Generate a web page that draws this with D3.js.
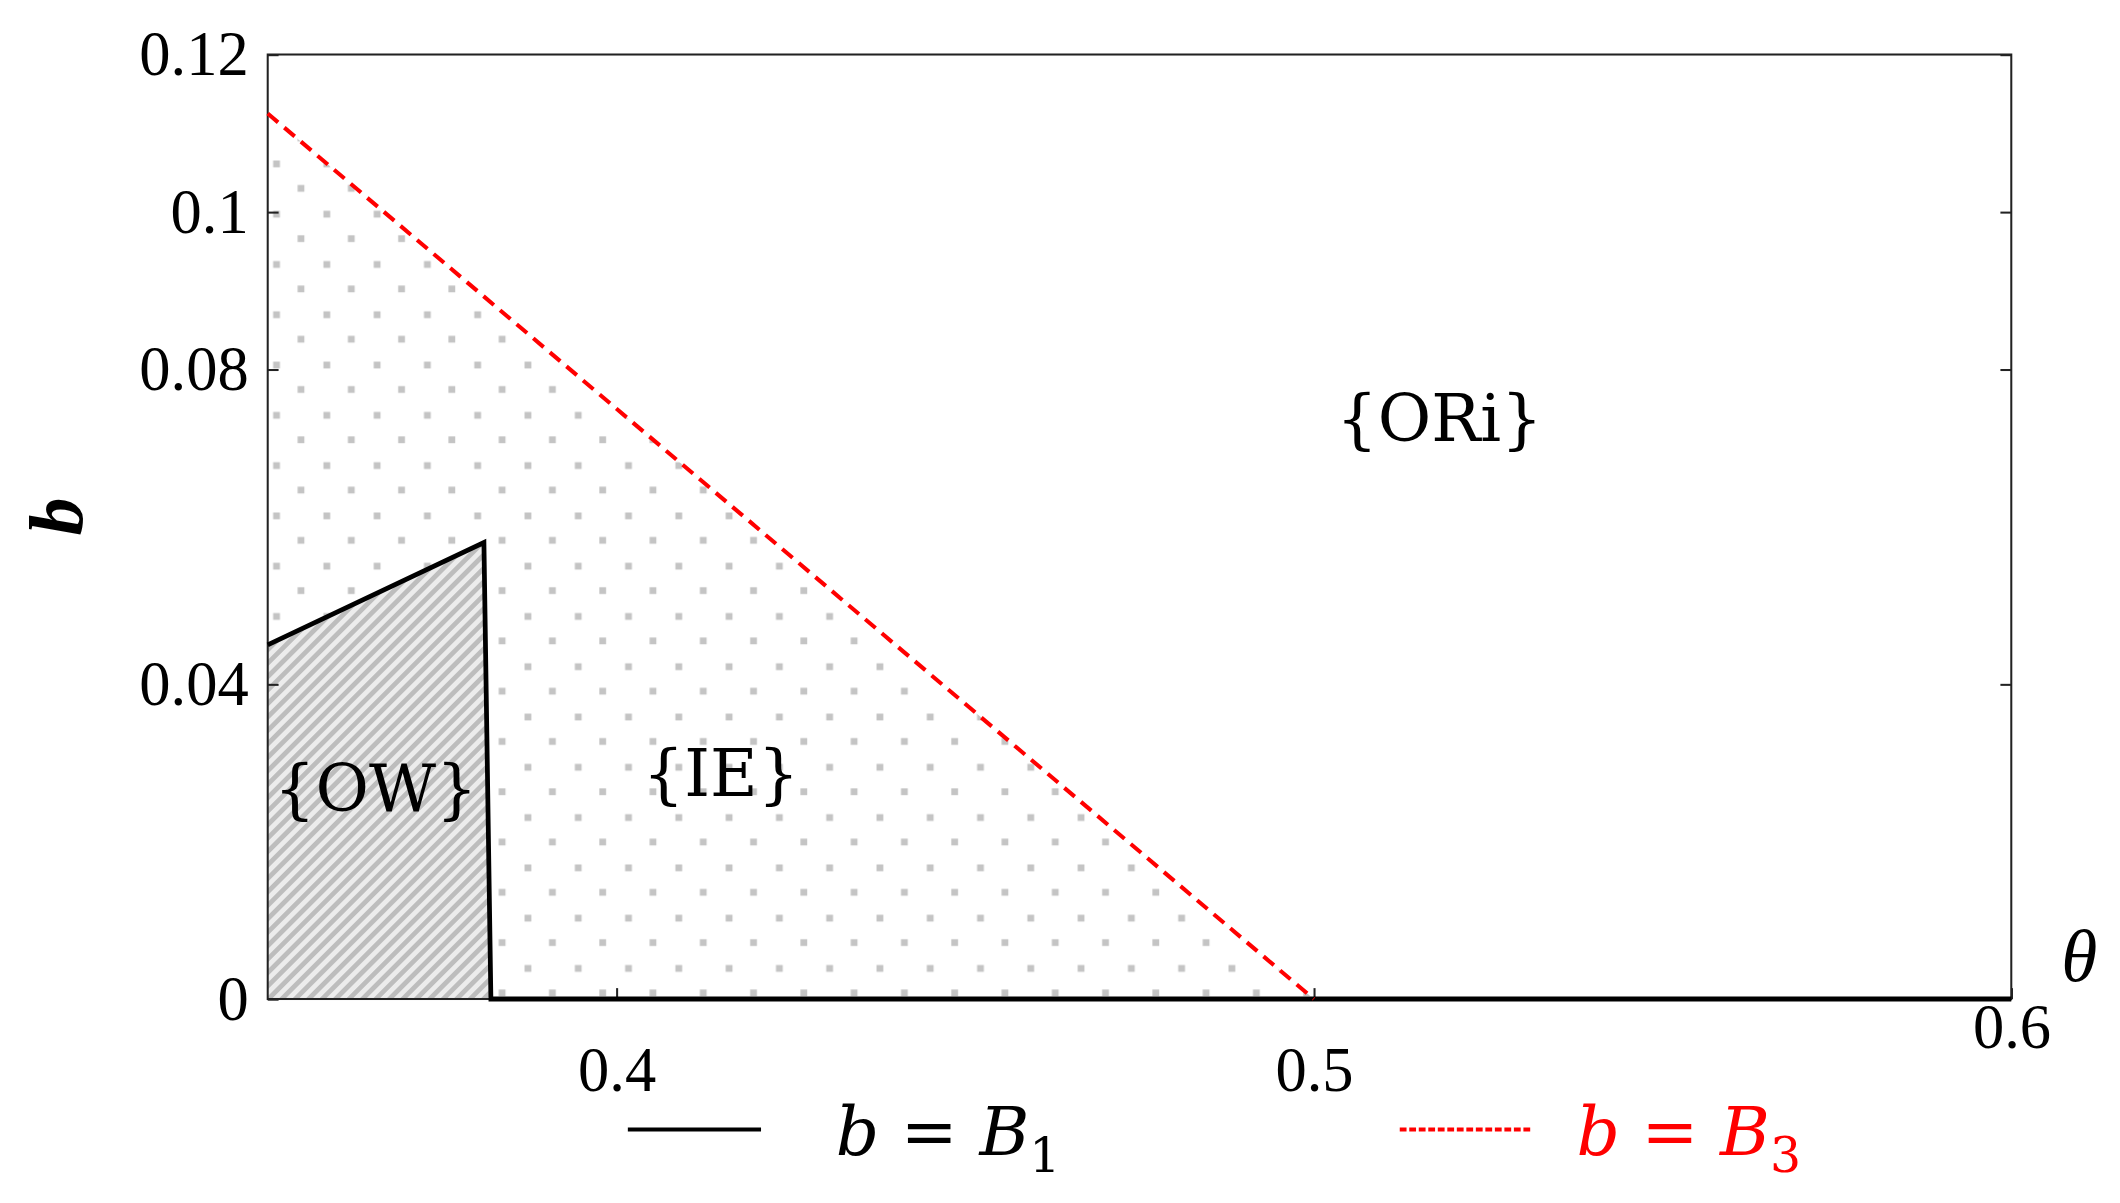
<!DOCTYPE html>
<html><head><meta charset="utf-8">
<script src="https://cdn.jsdelivr.net/npm/d3@7"></script>
<style>body{margin:0;background:#fff}</style>
</head><body><div id="app"></div>
<script>
'use strict'
// data
const xTicks = [0.4, 0.5, 0.6]
const yTicks = [0, 0.04, 0.08, 0.1, 0.12]
const b1Theta = [0.35, 0.381, 0.382, 0.6]
const b1Value = [0.045, 0.058, 0, 0]
const b3Theta = [0.35, 0.5]
const b3Value = [0.1125, 0]
const regions = [
  { name: '{OW}', theta: 0.3655, b: 0.026 },
  { name: '{IE}', theta: 0.415, b: 0.028 },
  { name: '{ORi}', theta: 0.518, b: 0.073 }
]

const margin = { top: 40, right: 80, bottom: 150, left: 197 }
const W = 1560, H = 885
const width = W - margin.left - margin.right
const height = H - margin.top - margin.bottom

const svg = d3.select('#app').append('svg')
  .attr('width', 2120).attr('height', 1203)
  .attr('viewBox', `0 0 ${W} ${H}`)
const defs = svg.append('defs')
const dots = defs.append('pattern').attr('id', 'dots').attr('patternUnits', 'userSpaceOnUse')
  .attr('width', 37).attr('height', 37)
dots.append('rect').attr('x', 4).attr('y', 4).attr('width', 5).attr('height', 5).attr('fill', '#c4c4c4')
dots.append('rect').attr('x', 22).attr('y', 22).attr('width', 5).attr('height', 5).attr('fill', '#c4c4c4')
const hatch = defs.append('pattern').attr('id', 'hatch').attr('patternUnits', 'userSpaceOnUse')
  .attr('width', 7).attr('height', 7).attr('patternTransform', 'rotate(45)')
hatch.append('rect').attr('width', 7).attr('height', 7).attr('fill', '#ececec')
hatch.append('rect').attr('width', 3.5).attr('height', 7).attr('fill', '#bdbdbd')

const g = svg.append('g').attr('transform', `translate(${margin.left},${margin.top})`)
const x = d3.scaleLinear().domain([0.35, 0.6]).range([0, width])
const y = d3.scaleLinear().domain([0, 0.12]).range([height, 0])

// IE region: under B3
const area = d3.area().x(d => x(d[0])).y0(y(0)).y1(d => y(d[1]))
g.append('path').datum(b3Theta.map((t, i) => [t, b3Value[i]]))
  .attr('d', area).attr('fill', 'url(#dots)')
// OW region: under B1
const ow = b1Theta.slice(0, 3).map((t, i) => [t, b1Value[i]])
const owPoly = [[ow[0][0], 0], ...ow]
g.append('path').attr('d', d3.line().x(d => x(d[0])).y(d => y(d[1]))(owPoly) + 'Z')
  .attr('fill', 'url(#hatch)')

// frame
g.append('rect').attr('width', width).attr('height', height).attr('fill', 'none')
  .attr('stroke', '#222').attr('stroke-width', 1.5)

const font = '"Liberation Serif", "DejaVu Serif", serif'
const yAxis = g.append('g').call(d3.axisLeft(y).tickValues(yTicks).tickSize(-8).tickFormat(d => d === 0 ? '0' : String(d)).tickPadding(14))
const yAxisR = g.append('g').attr('transform', `translate(${width},0)`).call(d3.axisRight(y).tickValues(yTicks).tickSize(-8).tickFormat(''))
const xAxis = g.append('g').attr('transform', `translate(0,${height})`)
  .call(d3.axisBottom(x).tickValues(xTicks).tickSize(-8).tickFormat(d => String(d)).tickPadding(22))
;[yAxis, yAxisR, xAxis].forEach(a => {
  a.select('.domain').remove()
  a.selectAll('line').attr('stroke', '#222').attr('stroke-width', 1.5)
  a.selectAll('text').style('font-family', font).style('font-size', '46px').attr('fill', '#000')
})
xAxis.selectAll('.tick').filter(d => d === 0.6).select('text').attr('dy', '0.3em')
xAxis.selectAll('.tick').filter(d => d === 0.4).select('text').attr('dy', '1em')
xAxis.selectAll('.tick').filter(d => d === 0.5).select('text').attr('dy', '1em')

// B1 line
g.append('path').datum(b1Theta.map((t, i) => [t, b1Value[i]]))
  .attr('d', d3.line().x(d => x(d[0])).y(d => y(d[1])))
  .attr('fill', 'none').attr('stroke', '#000').attr('stroke-width', 3.5)
// B3 line
g.append('path').datum(b3Theta.map((t, i) => [t, b3Value[i]]))
  .attr('d', d3.line().x(d => x(d[0])).y(d => y(d[1])))
  .attr('fill', 'none').attr('stroke', '#f00').attr('stroke-width', 3).attr('stroke-dasharray', '10,6')

// region labels
g.selectAll('.reg').data(regions).enter().append('text')
  .attr('x', d => x(d.theta)).attr('y', d => y(d.b))
  .attr('text-anchor', 'middle').attr('dominant-baseline', 'middle')
  .style('font-family', '"DejaVu Serif", serif').style('font-size', '48px')
  .text(d => d.name)

// axis titles
svg.append('text').attr('transform', 'translate(60,380) rotate(-90)').attr('text-anchor', 'middle')
  .style('font-family', font).style('font-size', '56px').style('font-style', 'italic').style('font-weight', 'bold').text('b')
svg.append('text').attr('x', 1530).attr('y', 722).attr('text-anchor', 'middle')
  .style('font-family', font).style('font-size', '54px').style('font-style', 'italic').text('θ')

// legend
const leg = [
  { label: 'B', sub: '1', color: '#000', dash: null, x0: 462, tx: 615 },
  { label: 'B', sub: '3', color: '#f00', dash: '5,2', x0: 1030, tx: 1160 }
]
leg.forEach(l => {
  svg.append('line').attr('x1', l.x0).attr('x2', l.x0 + 98).attr('y1', 831).attr('y2', 831)
    .attr('stroke', l.color).attr('stroke-width', 3).attr('stroke-dasharray', l.dash)
  const t = svg.append('text').attr('x', l.tx).attr('y', 850).attr('fill', l.color)
    .style('font-family', '"DejaVu Serif", serif').style('font-size', '50px')
  t.append('tspan').style('font-style', 'italic').text('b')
  t.append('tspan').text(' = ')
  t.append('tspan').style('font-style', 'italic').text(l.label)
  t.append('tspan').attr('dy', 12).style('font-size', '36px').text(l.sub)
})
</script></body></html>
